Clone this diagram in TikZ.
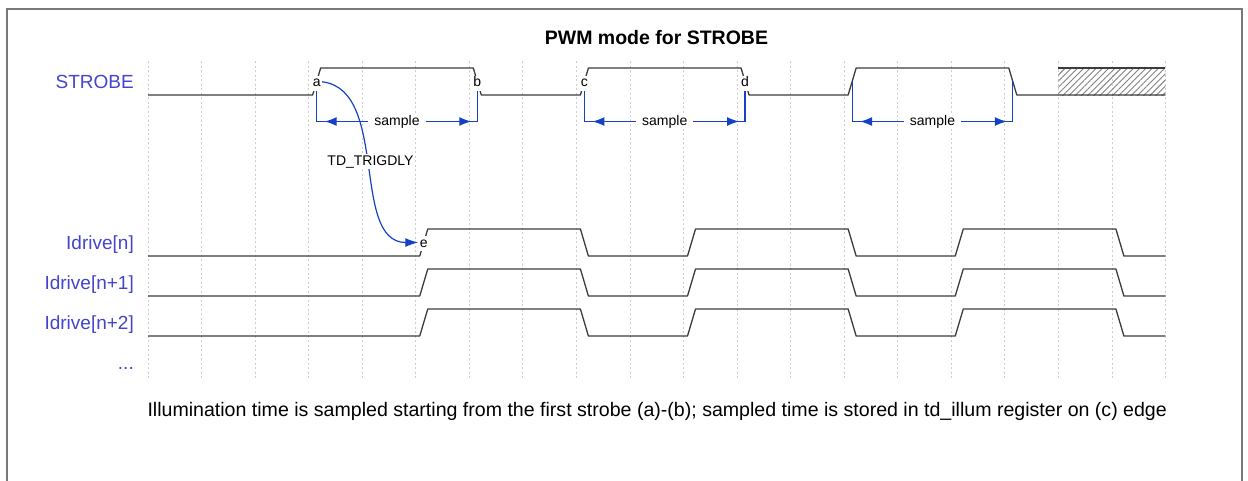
\documentclass[tikz,border=0pt]{standalone}
\usepackage{fontspec}
\usepackage{graphicx}
\setmainfont{Liberation Sans}
\usetikzlibrary{arrows.meta,decorations.markings,patterns.meta,calc}
\definecolor{wblue}{RGB}{20,65,200}
\definecolor{namecol}{RGB}{68,68,204}
\definecolor{wavec}{RGB}{60,60,60}
\definecolor{gridc}{RGB}{205,205,205}
\definecolor{framec}{RGB}{120,120,120}
\definecolor{hatchc}{RGB}{130,130,130}
\begin{document}
\begin{tikzpicture}[x=1pt,y=-1pt,
  gridline/.style={gridc, line width=0.8pt, dash pattern=on 2pt off 2.5pt},
  waveline/.style={wavec, line width=1.3pt, line join=round},
  namelbl/.style={text=namecol, anchor=base east, inner sep=0pt, font=\fontsize{19}{22}\selectfont},
  edgelbl/.style={fill=white, inner sep=1pt, anchor=base, text height=10pt, text depth=3pt, font=\fontsize{14}{16}\selectfont},
  arcline/.style={wblue, line width=1.2pt},
  samplearrow/.style={arcline, postaction={decorate}, decoration={markings,
     mark=at position 8pt with {\arrowreversed{Latex[length=12pt,width=9pt]}},
     mark=at position -6pt with {\arrow{Latex[length=12pt,width=9pt]}}}},
  samplelbl/.style={fill=white, inner xsep=6pt, inner ysep=1pt, anchor=base, yshift=-4pt, font=\fontsize{14}{16}\selectfont},
  titlelbl/.style={anchor=base, inner sep=0pt, font=\fontsize{19.5}{23}\selectfont\bfseries}
]
\useasboundingbox (0,0) rectangle (1248,480);

% frame
\draw[framec, line width=2pt] (7,482) -- (7,9) -- (1242,9) -- (1242,482);

% title
\node[titlelbl] (title) at (656.5,44.3) {PWM mode for STROBE};

% grid
\foreach \k in {0,...,19} {
  \draw[gridline] ({148+53.55*\k},61) -- ({148+53.55*\k},380);
}

% signal names
\node[namelbl] (nStrobe) at (134,88.7) {STROBE};
\node[namelbl] (nId0) at (134,249.8) {Idrive[n]};
\node[namelbl] (nId1) at (134,289.8) {Idrive[n+1]};
\node[namelbl] (nId2) at (134,329.8) {Idrive[n+2]};
\node[namelbl] (nDots) at (134,369.8) {...};

% hatched region
\fill[pattern={Lines[angle=45,distance=4.4pt,line width=0.9pt]}, pattern color=hatchc]
  (1058.35,68) rectangle (1165.45,95);
\draw[waveline] (1058.35,68) -- (1165.45,68);

% STROBE wave
\draw[waveline] (148,95) -- (312.65,95) -- (320.65,68) -- (473.3,68) -- (481.3,95)
  -- (580.4,95) -- (588.4,68) -- (741.05,68) -- (749.05,95) -- (848.15,95)
  -- (856.15,68) -- (1008.8,68) -- (1016.8,95) -- (1165.45,95);

% Idrive waves
\foreach \m in {242.5,282.5,322.5} {
  \pgfmathsetmacro{\lo}{\m+13.5}
  \pgfmathsetmacro{\hi}{\m-13.5}
  \draw[waveline] (148,\lo) -- (419.75,\lo) -- (427.75,\hi) -- (580.4,\hi) -- (588.4,\lo)
    -- (687.5,\lo) -- (695.5,\hi) -- (848.15,\hi) -- (856.15,\lo) -- (955.25,\lo)
    -- (963.25,\hi) -- (1115.9,\hi) -- (1123.9,\lo) -- (1165.45,\lo);
}

% edge points
\coordinate (a) at (316.65,81.5);
\coordinate (b) at (477.3,81.5);
\coordinate (c) at (584.4,81.5);
\coordinate (d) at (745.05,81.5);
\coordinate (f) at (852.15,81.5);
\coordinate (g) at (1012.8,81.5);
\coordinate (e) at (423.75,242.5);
\coordinate (aB) at (316.65,121.5);
\coordinate (bB) at (477.3,121.5);
\coordinate (cB) at (584.4,121.5);
\coordinate (dB) at (745.05,121.5);
\coordinate (fB) at (852.15,121.5);
\coordinate (gB) at (1012.8,121.5);

% sample arrows
\draw[arcline] (a) -- (aB) (b) -- (bB) (c) -- (cB) (d) -- (dB) (f) -- (fB) (g) -- (gB);
\draw[samplearrow] (aB) -- (bB);
\draw[samplearrow] (cB) -- (dB);
\draw[samplearrow] (fB) -- (gB);
\path (aB) -- node[samplelbl] (s1) {sample} (bB);
\path (cB) -- node[samplelbl] (s2) {sample} (dB);
\path (fB) -- node[samplelbl] (s3) {sample} (gB);

% TD_TRIGDLY curve
\draw[arcline, -{Latex[length=13pt,width=9pt]}, shorten >=5.5pt]
  (a) .. controls (391.62,81.5) and (348.78,242.5) .. (e);
\node[fill=white, inner sep=1pt, anchor=base, font=\fontsize{14}{16}\selectfont] (td) at (370.5,165) {TD\_TRIGDLY};

% edge labels
\node[edgelbl] (la) at ($(a)+(0,5)$) {a};
\node[edgelbl] (lb) at ($(b)+(0,5)$) {b};
\node[edgelbl] (lc) at ($(c)+(0,5)$) {c};
\node[edgelbl] (ld) at ($(d)+(0,5)$) {d};
\node[edgelbl] (le) at ($(e)+(0,4.5)$) {e};

% footer
\node[anchor=base west, inner sep=0pt] (foot) at (147.3,416.7)
  {\resizebox{1019.4pt}{!}{\fontsize{19.5}{23}\selectfont Illumination time is sampled starting from the first strobe (a)-(b); sampled time is stored in td\_illum register on (c) edge}};
\end{tikzpicture}
\end{document}
